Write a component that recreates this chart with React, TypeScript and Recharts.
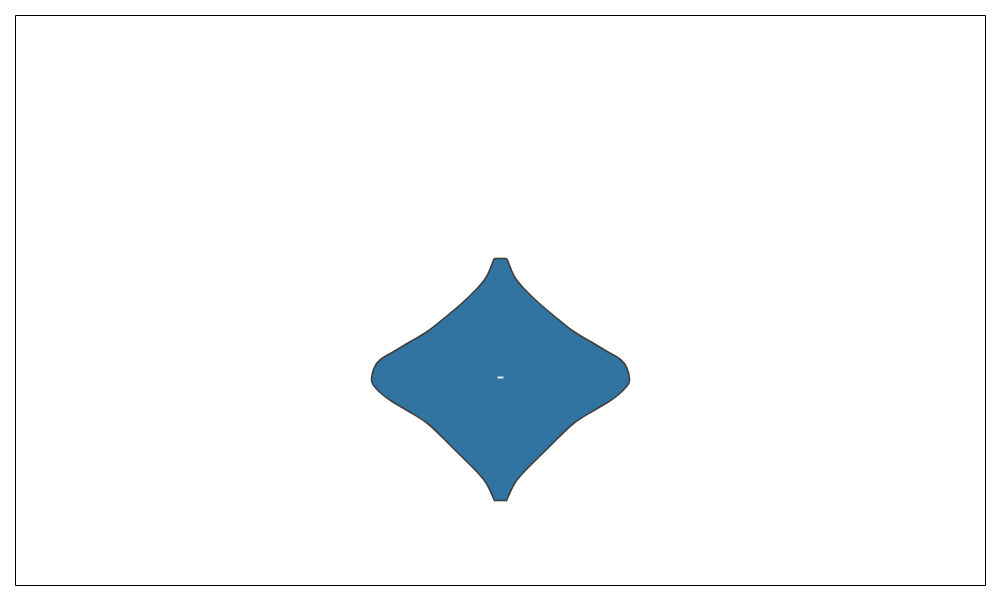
import React from 'react';
import { ComposedChart, Area, XAxis, YAxis, ReferenceArea, ReferenceLine } from 'recharts';

// value levels along the violin (up is positive) and the kde half-width at each
const levels = [1.2, 1.15, 1.03, 0.9, 0.74, 0.6, 0.47, 0.37, 0.27, 0.19, 0.1, 0, -0.07, -0.17, -0.24, -0.34, -0.45, -0.6, -0.77, -0.94, -1.07, -1.2, -1.22];
const density = [0.047, 0.064, 0.103, 0.181, 0.31, 0.44, 0.568, 0.698, 0.827, 0.93, 0.982, 1.0, 0.984, 0.907, 0.829, 0.698, 0.566, 0.442, 0.31, 0.178, 0.1, 0.054, 0.047];
const median = 0.01;

const data = levels.map((v, i) => ({ v, band: [-density[i], density[i]] }));

const xDomain = [-3.76, 3.76];
const yDomain = [-2.07, 3.63];
const topCap = density[0];
const bottomCap = density[density.length - 1];

export default function App() {
  return (
    <div style={{ position: 'absolute', left: 0, top: 0 }}>
      <ComposedChart
        width={1000}
        height={600}
        layout="vertical"
        data={data}
        margin={{ top: 15.5, right: 14.5, bottom: 14.5, left: 15.5 }}
      >
        <XAxis type="number" domain={xDomain} hide allowDataOverflow />
        <YAxis type="number" dataKey="v" domain={yDomain} hide allowDataOverflow reversed />
        <ReferenceArea
          x1={xDomain[0]}
          x2={xDomain[1]}
          y1={yDomain[0]}
          y2={yDomain[1]}
          fill="none"
          stroke="#000"
          strokeWidth={1}
          ifOverflow="visible"
        />
        <Area
          dataKey="band"
          type="natural"
          fill="#3274a1"
          fillOpacity={1}
          stroke="#3f3f3f"
          strokeWidth={1.6}
          isAnimationActive={false}
          dot={false}
          activeDot={false}
        />
        <ReferenceLine
          segment={[{ x: -topCap, y: levels[0] }, { x: topCap, y: levels[0] }]}
          stroke="#3f3f3f"
          strokeWidth={1.6}
        />
        <ReferenceLine
          segment={[{ x: -bottomCap, y: levels[levels.length - 1] }, { x: bottomCap, y: levels[levels.length - 1] }]}
          stroke="#3f3f3f"
          strokeWidth={1.6}
        />
        <ReferenceLine
          segment={[{ x: -0.023, y: median }, { x: 0.023, y: median }]}
          stroke="#eaeaf2"
          strokeWidth={2}
        />
      </ComposedChart>
    </div>
  );
}
